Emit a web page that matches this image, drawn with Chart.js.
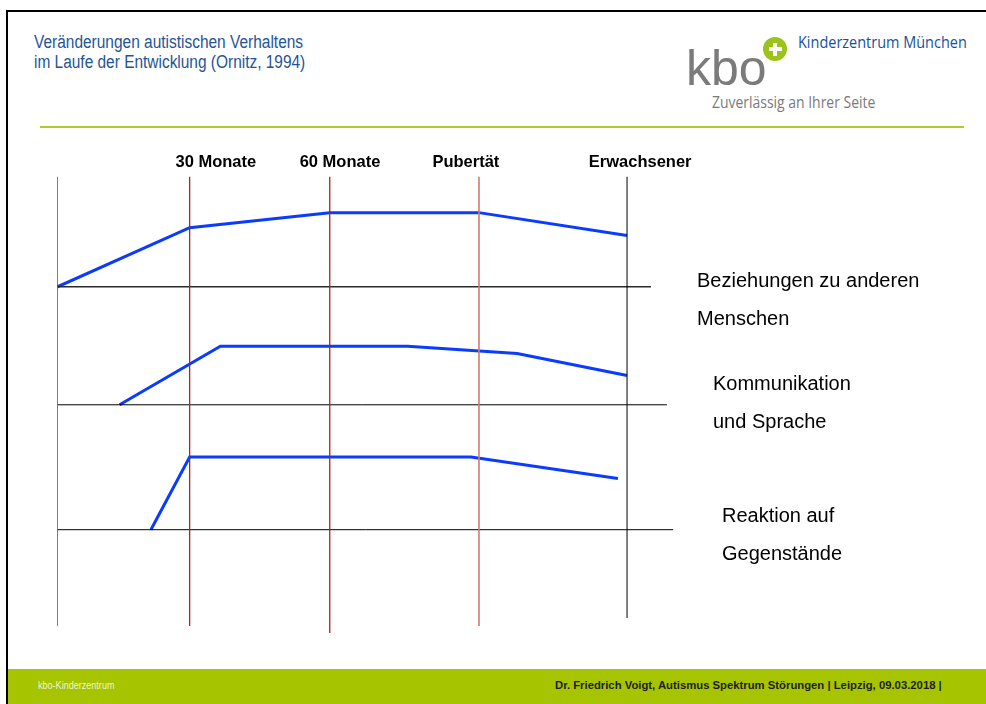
<!DOCTYPE html>
<html lang="de">

<head>
    <meta charset="UTF-8">
    <meta name="viewport" content="width=device-width, initial-scale=1.0">
    <script src="https://cdn.jsdelivr.net/npm/chart.js@4.4.1/dist/chart.umd.min.js"></script>
    <title>Veränderungen autistischen Verhaltens</title>
    <style>
        body {
            margin: 0;
            width: 986px;
            height: 704px;
            overflow: hidden;
            position: relative;
            background: #fff;
            font-family: "Liberation Sans", Arial, sans-serif;
        }

        .rahmen {
            position: absolute;
            left: 6px;
            top: 10px;
            width: 1000px;
            height: 700px;
            border-left: 2px solid #000;
            border-top: 2px solid #000;
        }

        .txt {
            position: absolute;
            white-space: nowrap;
            transform-origin: left top;
        }

        .titel {
            left: 34px;
            font-size: 18px;
            line-height: 20px;
            color: #1f5596;
        }

        .linie {
            position: absolute;
            left: 40px;
            top: 126px;
            width: 924px;
            height: 2px;
            background: #b2cb2c;
        }

        .kbo {
            left: 686px;
            top: 43px;
            font-size: 50px;
            line-height: 50px;
            color: #7b7b7b;
        }

        .kreis {
            position: absolute;
            left: 763px;
            top: 37px;
            width: 24px;
            height: 24px;
            border-radius: 50%;
            background: #9cc31c;
            box-shadow: 0 0 0 2.5px #fff;
        }

        .kreis::before,
        .kreis::after {
            content: "";
            position: absolute;
            background: #fff;
        }

        .kreis::before {
            left: 5.5px;
            top: 10px;
            width: 13px;
            height: 4px;
        }

        .kreis::after {
            left: 10px;
            top: 5.5px;
            width: 4px;
            height: 13px;
        }

        .kiz {
            left: 798px;
            top: 34px;
            font-family: "Open Sans", sans-serif;
            font-size: 15.5px;
            line-height: 16px;
            color: #16529c;
        }

        .slogan {
            left: 712px;
            top: 93px;
            font-family: "Open Sans", sans-serif;
            font-size: 16.5px;
            line-height: 18px;
            color: #7a7a7a;
        }

        .fuss {
            position: absolute;
            left: 8px;
            top: 669px;
            width: 990px;
            height: 40px;
            background: #a6c400;
        }

        .fuss-links {
            left: 38px;
            top: 680px;
            font-size: 10px;
            line-height: 12px;
            color: #eef4cc;
        }

        .fuss-rechts {
            left: 555px;
            top: 679px;
            font-size: 11px;
            line-height: 13px;
            font-weight: bold;
            color: #1e1e1e;
        }

        #verlauf {
            position: absolute;
            left: 0;
            top: 0;
        }
    </style>
</head>

<body>
    <div class="rahmen"></div>
    <div class="txt titel" style="top: 32px;" data-w="269">Veränderungen autistischen Verhaltens</div>
    <div class="txt titel" style="top: 52px;" data-w="271">im Laufe der Entwicklung (Ornitz, 1994)</div>
    <div class="linie"></div>

    <div class="txt kbo" data-w="81">kbo</div>
    <div class="kreis"></div>
    <div class="txt kiz" data-w="169">Kinderzentrum München</div>
    <div class="txt slogan" data-w="163">Zuverlässig an Ihrer Seite</div>

    <div class="fuss"></div>
    <div class="txt fuss-links" data-w="76">kbo-Kinderzentrum</div>
    <div class="txt fuss-rechts" data-w="387">Dr. Friedrich Voigt, Autismus Spektrum Störungen | Leipzig, 09.03.2018 |</div>

    <canvas id="verlauf" width="986" height="704"></canvas>
</body>

</html>
<script>
    document.querySelectorAll('.txt[data-w]').forEach(function (el) {
        var s = Number(el.dataset.w) / el.offsetWidth;
        el.style.transform = 'scaleX(' + s.toFixed(3) + ')';
    });

    // Zeitachse: 0 = Geburt, 100 = Erwachsener; y: 0 unten, 100 oben
    var meilensteine = ['30 Monate', '60 Monate', 'Pubertät', 'Erwachsener'];
    var meilensteinX = [23.2, 47.8, 74.0, 100];
    var trennUnten = [1.75, 0.2, 1.75, 3.5];   // unteres Ende der Trennlinien
    var startUnten = 1.75;                    // linke Achse

    var bereiche = [
        ['Beziehungen zu anderen', 'Menschen'],
        ['Kommunikation', 'und Sprache'],
        ['Reaktion auf', 'Gegenstände']
    ];
    var nulllinien = [75.9, 50.1, 22.8];
    var nulllinienEnde = [104.2, 107.0, 108.1];

    var beziehungenX = [0, 23.2, 47.8, 74.0, 100];
    var beziehungenY = [75.9, 88.8, 92.1, 92.1, 87.1];

    var kommunikationX = [10.9, 28.6, 61.5, 80.7, 100];
    var kommunikationY = [50.1, 62.9, 62.9, 61.3, 56.5];

    var reaktionX = [16.4, 23.2, 72.6, 98.4];
    var reaktionY = [22.8, 38.7, 38.7, 34.0];

    function punkte(xs, ys) {
        return xs.map(function (x, i) { return { x: x, y: ys[i] }; });
    }

    function strecke(data, farbe, breite) {
        return { data: data, borderColor: farbe, borderWidth: breite, pointRadius: 0, tension: 0, fill: false };
    }

    var datasets = [];

    // linke Achse
    datasets.push(strecke([{ x: 0, y: startUnten }, { x: 0, y: 100 }], '#000', 1));

    // senkrechte Trennlinien
    var trennFarben = ['#a8261e', '#a8261e', '#cf7b6f', '#000'];
    var trennBreiten = [1.3, 1.3, 1.6, 1];
    meilensteinX.forEach(function (x, i) {
        datasets.push(strecke([{ x: x, y: trennUnten[i] }, { x: x, y: 100 }], trennFarben[i], trennBreiten[i]));
    });

    // Grundlinien der drei Bereiche
    var nullFarben = ['#2a2a2a', '#000', '#000'];
    var nullBreiten = [1.6, 1, 1];
    nulllinien.forEach(function (y, i) {
        datasets.push(strecke([{ x: 0, y: y }, { x: nulllinienEnde[i], y: y }], nullFarben[i], nullBreiten[i]));
    });

    // Verläufe
    var blau = '#0a3cff';
    datasets.push(strecke(punkte(beziehungenX, beziehungenY), blau, 3));
    datasets.push(strecke(punkte(kommunikationX, kommunikationY), blau, 3));
    datasets.push(strecke(punkte(reaktionX, reaktionY), blau, 3));

    var beschriftung = {
        id: 'beschriftung',
        afterDraw: function (chart) {
            var ctx = chart.ctx;
            var x = chart.scales.x;
            var y = chart.scales.y;
            var area = chart.chartArea;
            ctx.save();

            // Meilensteine oben
            var labelX = [27.8, 49.6, 71.7, 102.3];
            ctx.fillStyle = '#000';
            ctx.font = 'bold 16.5px "Liberation Sans", Arial, sans-serif';
            ctx.textAlign = 'center';
            ctx.textBaseline = 'alphabetic';
            meilensteine.forEach(function (t, i) {
                ctx.fillText(t, x.getPixelForValue(labelX[i]), area.top - 10);
            });

            // Bereiche rechts
            var einzug = [13, 29, 38];
            var versatz = [0, -15, -8];
            ctx.font = '20px "Liberation Sans", Arial, sans-serif';
            ctx.textAlign = 'left';
            bereiche.forEach(function (zeilen, i) {
                var py = y.getPixelForValue(nulllinien[i]) + versatz[i];
                zeilen.forEach(function (t, j) {
                    ctx.fillText(t, area.right + einzug[i], py + j * 38.5);
                });
            });
            ctx.restore();
        }
    };

    var ctx = document.getElementById('verlauf').getContext('2d');
    window.verlauf = new Chart(ctx, {
        type: 'line',
        data: { datasets: datasets },
        options: {
            responsive: false,
            animation: false,
            devicePixelRatio: 1,
            events: [],
            layout: {
                padding: { left: 57.5, top: 176.5, right: 302, bottom: 70 }
            },
            plugins: {
                legend: { display: false },
                tooltip: { enabled: false }
            },
            scales: {
                x: { type: 'linear', min: 0, max: 110, display: false },
                y: { type: 'linear', min: 0, max: 100, display: false }
            }
        },
        plugins: [beschriftung]
    });
</script>
